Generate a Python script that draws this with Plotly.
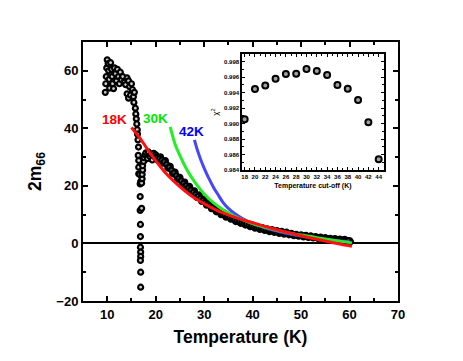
import plotly.graph_objects as go

# Measured 2m66 vs temperature: low-T cluster, sharp dip near 17 K, then the smooth decay
blob_temp = [9.6, 9.7, 9.8, 9.9, 10.0, 10.2, 10.3, 10.4, 10.5, 10.7, 10.9, 11.0, 11.1, 11.3,
             11.5, 11.7, 11.9, 12.1, 12.3, 12.5, 12.7, 12.9, 13.2, 13.5, 13.8, 14.1, 14.4,
             14.6, 14.1, 14.4, 14.8, 15.0, 15.2, 15.4, 15.5, 15.6, 15.8, 15.9, 16.0, 16.1,
             16.2, 16.25, 16.35, 16.45, 16.4, 16.5, 16.5, 16.5, 16.7]
blob_m66 = [52.5, 55.5, 58.0, 61.0, 63.8, 62.5, 60.0, 57.0, 54.0, 62.8, 60.5, 58.0, 55.5, 53.8,
            61.0, 59.0, 56.5, 60.5, 58.0, 55.5, 59.5, 57.0, 58.0, 56.0, 55.2, 57.5, 56.5,
            54.5, 52.0, 50.5, 51.5, 55.5, 53.5, 51.0, 49.0, 52.5, 47.0, 45.0, 43.3, 41.5,
            39.5, 38.0, 36.0, 33.5, 30.6, 28.8, 26.5, 24.2, 24.0]

dip_temp = [16.8, 16.9, 16.8, 16.8, 17.1, 16.85, 16.85, 16.85, 16.9, 16.9, 16.85, 16.9, 16.9]
dip_m66 = [20.7, 21.5, 16.3, 11.5, 12.2, 6.6, 2.4, -1.3, -3.0, -4.5, -5.9, -10.0, -15.2]

rise_temp = [17.1, 17.2, 17.2, 17.3, 17.3, 17.5, 17.6, 17.8, 18.0, 18.3, 18.5, 18.8, 19.0,
             19.3, 19.6, 19.9]
rise_m66 = [21.0, 22.5, 24.0, 25.5, 27.0, 28.5, 29.8, 30.8, 31.5, 29.5, 31.8, 30.2, 31.0,
            29.0, 31.3, 30.0]

# dense decay above 20 K, upper/lower edges of the band
band_temp = [20.0, 20.5, 21.0, 21.5, 22.0, 22.5, 23.0, 23.5, 24.0, 24.5, 25.0, 25.5, 26.0,
             26.5, 27.0, 27.5, 28.0, 28.5, 29.0, 29.5, 30.0, 30.5, 31.0, 31.5, 32.0, 32.5,
             33.0, 33.5, 34.0, 34.5, 35.0, 35.5, 36.0, 36.5, 37.0, 37.5, 38.0, 38.5, 39.0,
             39.5, 40.0, 40.5, 41.0, 41.5, 42.0, 42.5, 43.0, 43.5, 44.0, 44.5, 45.0, 45.5,
             46.0, 46.5, 47.0, 47.5, 48.0, 48.5, 49.0, 49.5, 50.0, 50.5, 51.0, 51.5, 52.0,
             52.5, 53.0, 53.5, 54.0, 54.5, 55.0, 55.5, 56.0, 56.5, 57.0, 57.5, 58.0, 58.5,
             59.0, 59.5, 60.0, 60.2]
band_m66 = [30.8, 28.9, 30.1, 27.9, 28.8, 26.2, 26.8, 24.2, 24.8, 22.3, 23.0, 20.5, 21.3,
            18.9, 19.8, 17.4, 18.3, 16.0, 16.9, 14.6, 15.4, 13.3, 14.0, 12.1, 12.8, 11.0,
            11.7, 10.0, 10.7, 9.1, 9.8, 8.4, 9.0, 7.6, 8.3, 7.0, 7.5, 6.4, 6.9,
            5.8, 6.4, 5.3, 5.9, 4.9, 5.5, 4.5, 5.1, 4.1, 4.8, 3.8, 4.5, 3.5,
            4.2, 3.2, 3.9, 3.0, 3.5, 2.7, 3.2, 2.5, 3.0, 2.3, 2.8, 2.1, 2.6,
            1.9, 2.4, 1.7, 2.2, 1.5, 2.0, 1.3, 1.8, 1.2, 1.7, 1.0, 1.5, 0.9,
            1.4, 0.8, 1.0, 0.6]

# middle of the band
mid_temp = [20.25, 20.75, 21.25, 21.75, 22.25, 22.75, 23.25, 23.75, 24.25, 24.75, 25.25,
            25.75, 26.25, 26.75, 27.25, 27.75, 28.25, 28.75, 29.25, 29.75, 30.25, 30.75,
            31.25, 31.75, 32.25, 32.75, 33.25, 33.75, 34.25, 34.75, 35.25, 35.75, 36.25,
            36.75, 37.25, 37.75, 38.25, 38.75, 39.25, 39.75, 40.25, 40.75, 41.25, 41.75,
            42.25, 42.75, 43.25, 43.75, 44.25, 44.75, 45.25, 45.75, 46.25, 46.75, 47.25,
            47.75, 48.25, 48.75, 49.25, 49.75, 50.25, 50.75, 51.25, 51.75, 52.25, 52.75,
            53.25, 53.75, 54.25, 54.75, 55.25, 55.75, 56.25, 56.75, 57.25, 57.75, 58.25,
            58.75, 59.25, 59.75]
mid_m66 = [29.9, 29.5, 29.0, 28.4, 27.5, 26.5, 25.5, 24.5, 23.6, 22.6, 21.8,
           20.9, 20.1, 19.3, 18.6, 17.8, 17.1, 16.4, 15.7, 15.0, 14.3, 13.7,
           13.1, 12.5, 11.9, 11.3, 10.8, 10.3, 9.9, 9.5, 9.1, 8.7, 8.3,
           7.9, 7.6, 7.2, 6.9, 6.6, 6.3, 6.1, 5.8, 5.6, 5.4, 5.2,
           5.0, 4.8, 4.6, 4.45, 4.3, 4.15, 4.0, 3.85, 3.7, 3.55, 3.4,
           3.25, 3.1, 2.95, 2.85, 2.75, 2.65, 2.55, 2.45, 2.35, 2.25, 2.15,
           2.05, 1.95, 1.85, 1.75, 1.65, 1.55, 1.5, 1.4, 1.35, 1.3, 1.2,
           1.15, 1.05, 0.95]

# Fits with different low-temperature cut-offs
fit18_temp = [15, 16, 17, 18, 19, 20, 22, 24, 26, 28, 30, 32, 34, 36, 38, 40, 42, 44, 46,
              48, 50, 52, 54, 56, 58, 60.5]
fit18_m66 = [40.3, 38.2, 36.0, 33.5, 31.0, 28.8, 24.6, 21.2, 18.3, 15.8, 13.8, 12.0, 10.5,
             9.3, 8.2, 7.2, 6.2, 5.2, 4.3, 3.5, 2.7, 1.9, 1.2, 0.5, -0.2, -1.0]
fit30_temp = [23, 24, 25, 26, 27, 28, 29, 30, 32, 34, 36, 38, 40, 42, 44, 46, 48, 50, 52,
              54, 56, 58, 60.5]
fit30_m66 = [40.5, 34.5, 30.5, 27.0, 24.0, 21.5, 19.2, 17.2, 14.0, 11.6, 9.7, 8.2, 6.9, 5.9,
             5.0, 4.2, 3.5, 2.9, 2.4, 1.8, 1.3, 0.8, 0.2]
fit42_temp = [28, 28.5, 29, 29.5, 30, 31, 32, 33, 34, 35, 36, 38, 40, 42, 45, 50, 55, 60]
fit42_m66 = [36.0, 33.0, 30.5, 28.2, 26.2, 22.5, 19.3, 16.6, 14.0, 12.2, 10.8, 8.6, 7.0,
             5.8, 4.3, 2.6, 1.4, 0.6]

# Inset: goodness of fit vs cut-off temperature
cutoff_temp = [18, 20, 22, 24, 26, 28, 30, 32, 34, 36, 38, 40, 42, 44]
chi2 = [0.99057, 0.99448, 0.99491, 0.99581, 0.99641, 0.99645, 0.99706, 0.99680, 0.99628,
        0.99500, 0.99452, 0.99306, 0.99018, 0.98542]

FONT = "Liberation Sans, Arial, sans-serif"

fig = go.Figure()

# sparse part: open-looking rings
fig.add_trace(go.Scatter(
    x=blob_temp + dip_temp + rise_temp,
    y=blob_m66 + dip_m66 + rise_m66,
    mode="markers",
    marker=dict(symbol="circle", size=5, color="#d0d0d0", line=dict(color="black", width=2.2)),
))
# dense band: rings overlap into a dark smear
fig.add_trace(go.Scatter(
    x=band_temp + mid_temp,
    y=band_m66 + mid_m66,
    mode="markers",
    marker=dict(symbol="circle", size=5, color="#505050", line=dict(color="black", width=2.2)),
))

for t, m, col in [(fit42_temp, fit42_m66, "#4646ff"),
                  (fit30_temp, fit30_m66, "#22ee22"),
                  (fit18_temp, fit18_m66, "#ff1010")]:
    fig.add_trace(go.Scatter(x=t, y=m, mode="lines", line=dict(color=col, width=3, shape="spline")))

fig.add_trace(go.Scatter(
    x=cutoff_temp, y=chi2, mode="markers", xaxis="x2", yaxis="y2",
    marker=dict(symbol="circle", size=6, color="#a0a0a0", line=dict(color="black", width=2)),
))

for txt, tx, ty, col in [("18K", 11.45, 43.2, "#ff0000"),
                         ("30K", 20.05, 43.4, "#00e600"),
                         ("42K", 27.4, 38.9, "#0000ff")]:
    fig.add_annotation(x=tx, y=ty, xref="x", yref="y", text=txt, showarrow=False,
                       font=dict(family=FONT, size=13.5, color=col, weight="bold"))

axis_common = dict(showline=True, linecolor="black", mirror="ticks", ticks="inside",
                   tickcolor="black", showgrid=False)

fig.update_layout(
    width=463, height=361,
    margin=dict(l=83, r=65, t=42, b=60),
    plot_bgcolor="white", paper_bgcolor="white",
    showlegend=False,
    font=dict(family=FONT, color="black"),
    xaxis=dict(
        **axis_common, range=[5, 70], tick0=0, dtick=10, ticklen=5, tickwidth=2, linewidth=2,
        minor=dict(dtick=5, ticks="inside", ticklen=3, tickwidth=1.5, tickcolor="black"),
        zeroline=False,
        tickfont=dict(size=13, weight="bold"),
        title=dict(text="Temperature (K)", font=dict(size=17.5, weight="bold"), standoff=10),
    ),
    yaxis=dict(
        **axis_common, range=[-20, 70], tick0=0, dtick=20, ticklen=5, tickwidth=2, linewidth=2,
        minor=dict(dtick=10, ticks="inside", ticklen=3, tickwidth=1.5, tickcolor="black"),
        zeroline=True, zerolinecolor="black", zerolinewidth=1.5,
        tickfont=dict(size=13, weight="bold"),
        title=dict(text="2m<sub>66</sub>", font=dict(size=17.5, weight="bold"), standoff=10),
    ),
    xaxis2=dict(
        **axis_common, domain=[0.505, 0.955], anchor="y2", range=[17.5, 45], tick0=18, dtick=2,
        ticklen=3, tickwidth=1, linewidth=1.5, zeroline=False,
        minor=dict(dtick=1, ticks="inside", ticklen=2, tickwidth=1, tickcolor="black"),
        tickfont=dict(size=6, weight="bold"),
        title=dict(text="Temperature cut-off (K)", font=dict(size=7, weight="bold"), standoff=4),
    ),
    yaxis2=dict(
        **axis_common, domain=[0.505, 0.954], anchor="x2", range=[0.984, 0.999],
        tick0=0.984, dtick=0.002, tickformat=".3f", ticklen=3, tickwidth=1, linewidth=1.5,
        zeroline=False,
        minor=dict(dtick=0.001, ticks="inside", ticklen=2, tickwidth=1, tickcolor="black"),
        tickfont=dict(size=6, weight="bold"),
        title=dict(text="χ<sup>2</sup>", font=dict(size=8), standoff=4),
    ),
)

# browsers add an 8px body margin by default; drop it so the figure sits at the window origin
fig.write_html("out.html", config={"displayModeBar": False},
               post_script="document.body.style.margin='0';")
